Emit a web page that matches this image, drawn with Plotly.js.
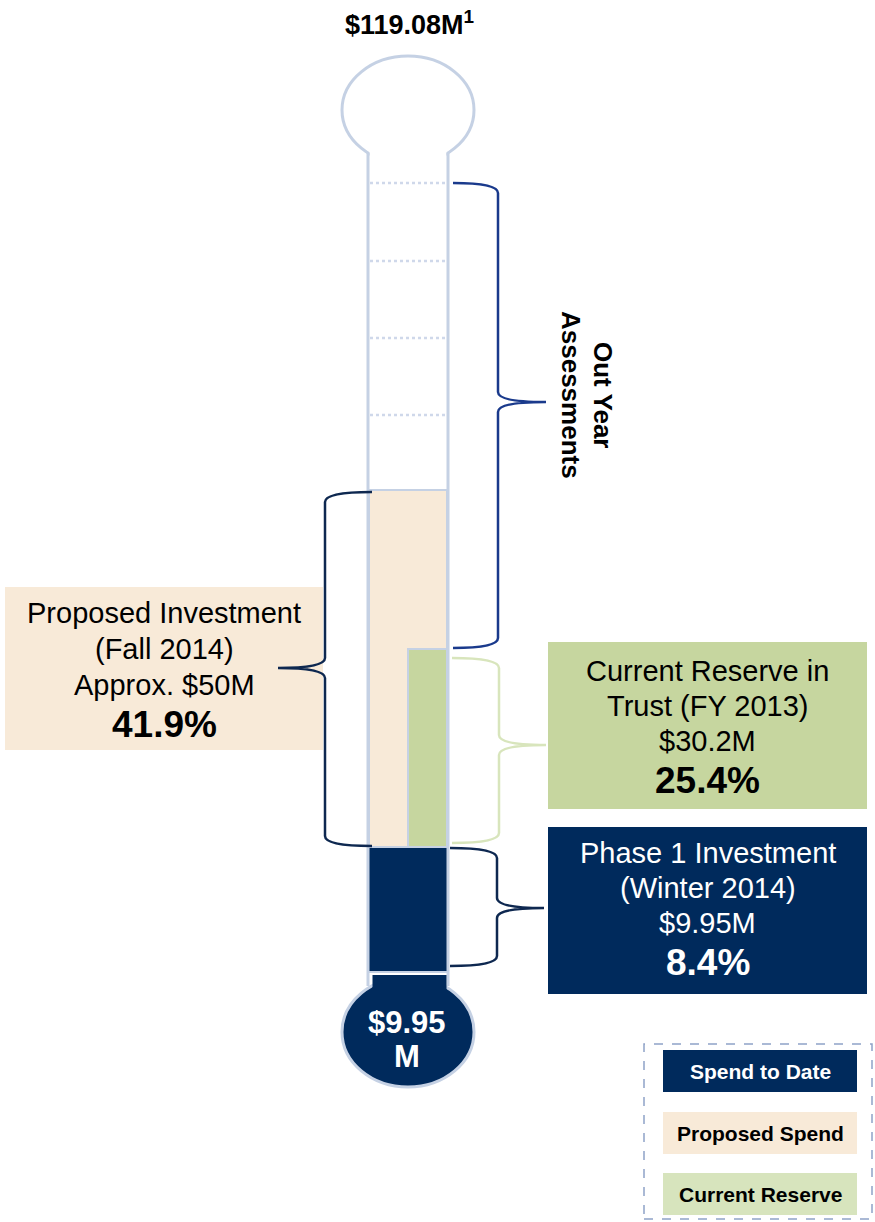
<!DOCTYPE html>
<html>
<head>
<meta charset="utf-8">
<script src="https://cdn.plot.ly/plotly-3.0.1.min.js"></script>
<style>html,body{margin:0;padding:0;background:#fff}#chart{width:875px;height:1222px}</style>
</head>
<body>
<div id="chart"></div>
<script>
// ---------------- data ----------------
const segments   = ['Phase 1 Investment', 'Proposed Investment', 'Current Reserve in Trust', 'Out Year Assessments'];
const periods    = ['Winter 2014', 'Fall 2014', 'FY 2013', ''];
const amountsM   = [9.95, 50, 30.2, null];
const sharesPct  = [8.4, 41.9, 25.4, null];
const totalM     = 119.08;
// thermometer gauge levels as drawn (gauge units above bulb)
const gaugeBase  = [0, 125, 125, 482];
const gaugeTop   = [125, 482, 323, 789];
const gradLevels = [789, 711, 634, 557];
const legendLabels = ['Spend to Date', 'Proposed Spend', 'Current Reserve'];

// ---------------- styling ----------------
const NAVY = '#002A5C', CREAM = '#F8EAD8', GREEN = '#C6D69F', LEG_GREEN = '#D7E4BD';
const TUBE = '#C5D1E4', BRACE_BLUE = '#1A3A8C', BRACE_DARK = '#0E2850', BRACE_GREEN = '#D8E5BC';
const FONT = 'Liberation Sans, Arial, sans-serif';
const Z = 972;                       // pixel row of gauge level 0
const Y = p => Z - p;                // pixel row -> axis value
const P = (x, y) => x + ',' + Y(y);

function brace(xTip, xS, xP, yTop, yMid, yBot, r) {
  return 'M' + P(xTip, yTop) + ' Q' + P(xS, yTop) + ' ' + P(xS, yTop + r) +
         ' L' + P(xS, yMid - r) + ' Q' + P(xS, yMid) + ' ' + P(xP, yMid) +
         ' Q' + P(xS, yMid) + ' ' + P(xS, yMid + r) +
         ' L' + P(xS, yBot - r) + ' Q' + P(xS, yBot) + ' ' + P(xTip, yBot);
}
const rect = (x0, x1, p0, p1, fill, line, extra) => Object.assign({
  type: 'rect', xref: 'x', yref: 'y', x0: x0, x1: x1, y0: Y(p1), y1: Y(p0),
  fillcolor: fill, line: line || {width: 0}, layer: 'below'}, extra || {});

// ---------------- traces (thermometer fill) ----------------
const mk = (i, xc, w, color) => ({
  type: 'bar', x: [xc], y: [gaugeTop[i] - gaugeBase[i]], base: [gaugeBase[i]], width: [w],
  name: segments[i], marker: {color: color, line: {color: TUBE, width: 2}},
  hoverinfo: 'skip', showlegend: false
});
const traces = [
  mk(1, 408, 78, CREAM),
  mk(2, 427.5, 39, GREEN),
  mk(0, 408, 79, NAVY)
];

// ---------------- shapes ----------------
const shapes = [];
// top bulb
shapes.push({type: 'circle', xref: 'x', yref: 'y', x0: 342, x1: 474, y0: Y(164), y1: Y(56),
  fillcolor: '#fff', line: {color: TUBE, width: 3}, layer: 'below'});
shapes.push(rect(369.6, 446.4, 140, 175, '#fff'));
// tube walls
shapes.push({type: 'line', xref: 'x', yref: 'y', x0: 368, x1: 368, y0: Y(153), y1: Y(986), line: {color: TUBE, width: 3}, layer: 'below'});
shapes.push({type: 'line', xref: 'x', yref: 'y', x0: 448, x1: 448, y0: Y(153), y1: Y(986), line: {color: TUBE, width: 3}, layer: 'below'});
// graduations
gradLevels.forEach(g => shapes.push({type: 'line', xref: 'x', yref: 'y', x0: 370, x1: 446, y0: g, y1: g,
  line: {color: '#CFD8EA', width: 2.5, dash: 'dot'}, layer: 'below'}));
// bottom bulb
shapes.push({type: 'circle', xref: 'x', yref: 'y', x0: 342, x1: 474, y0: Y(1087), y1: Y(977),
  fillcolor: NAVY, line: {color: TUBE, width: 3}, layer: 'below'});
shapes.push(rect(372.5, 446.5, 975, 1002, NAVY));

// label boxes
shapes.push(rect(5, 323, 587, 750, CREAM));
shapes.push(rect(548, 867, 642, 809, GREEN));
shapes.push(rect(548, 867, 827, 994, NAVY));

// braces
const bp = (d, c, w) => ({type: 'path', xref: 'x', yref: 'y', path: d, line: {color: c, width: w}, layer: 'above'});
shapes.push(bp(brace(453, 498, 546, Y(gaugeTop[3]), 402, Y(gaugeTop[2]) - 1, 10), BRACE_BLUE, 2.5));
shapes.push(bp(brace(452, 499, 546, Y(gaugeTop[2]) + 9, 745, Y(gaugeBase[2]) - 4, 10), BRACE_GREEN, 2.5));
shapes.push(bp(brace(450, 497, 544, Y(gaugeTop[0]) + 1, 908, Y(gaugeBase[0]) - 6, 10), BRACE_DARK, 2.5));
shapes.push(bp(brace(372, 325, 278, Y(gaugeTop[1]) + 2, 668, Y(gaugeBase[1]) - 1, 10), BRACE_DARK, 2.5));

// legend
shapes.push(rect(644, 872, 1044, 1219, 'rgba(0,0,0,0)', {color: '#8FA2C7', width: 1.5, dash: 'dash'}, {layer: 'above'}));
shapes.push(rect(663, 857, 1050, 1092, NAVY));
shapes.push(rect(663, 857, 1112, 1154, CREAM));
shapes.push(rect(663, 857, 1173, 1215, LEG_GREEN));

// ---------------- annotations ----------------
const ann = [];
const T = (text, x, p, size, color, bold, extra) => ann.push(Object.assign({
  text: bold ? '<b>' + text + '</b>' : text, x: x, y: Y(p), xref: 'x', yref: 'y',
  showarrow: false, xanchor: 'center', yanchor: 'middle',
  font: {family: FONT, size: size, color: color}}, extra || {}));
const pct = v => v.toFixed(1) + '%';

T('$' + totalM.toFixed(2) + 'M<sup>1</sup>', 409, 23, 27, '#000', true);

// proposed box
T('Proposed Investment', 164, 613, 29, '#000');
T('(' + periods[1] + ')', 164, 649, 29, '#000');
T('Approx. $' + amountsM[1] + 'M', 164, 685, 29, '#000');
T(pct(sharesPct[1]), 164, 724, 37, '#000', true);

// reserve box
T('Current Reserve in', 707.5, 671, 29, '#000');
T('Trust (' + periods[2] + ')', 707.5, 706, 29, '#000');
T('$' + amountsM[2] + 'M', 707.5, 741, 29, '#000');
T(pct(sharesPct[2]), 707.5, 780, 37, '#000', true);

// phase 1 box
T(segments[0], 707.5, 853, 29, '#fff');
T('(' + periods[0] + ')', 707.5, 888, 29, '#fff');
T('$' + amountsM[0] + 'M', 707.5, 923, 29, '#fff');
T(pct(sharesPct[0]), 707.5, 962, 37, '#fff', true);

// out year label (rotated)
T('Out Year', 603, 395, 26, '#000', true, {textangle: 90});
T('Assessments', 571, 395, 26, '#000', true, {textangle: 90});

// bulb value
T('$' + amountsM[0], 407, 1022, 31, '#fff', true);
T('M', 407, 1056, 31, '#fff', true);

// legend labels
T(legendLabels[0], 760, 1071, 21, '#fff', true);
T(legendLabels[1], 760, 1133, 21, '#000', true);
T(legendLabels[2], 760, 1194, 21, '#000', true);

const layout = {
  width: 875, height: 1222,
  margin: {l: 0, r: 0, t: 0, b: 0, pad: 0},
  paper_bgcolor: '#fff', plot_bgcolor: '#fff',
  barmode: 'overlay',
  xaxis: {range: [0, 875], visible: false, fixedrange: true},
  yaxis: {range: [Y(1222), Y(0)], visible: false, fixedrange: true},
  shapes: shapes, annotations: ann, showlegend: false
};
Plotly.newPlot('chart', traces, layout, {staticPlot: true, displayModeBar: false});
</script>
</body>
</html>
